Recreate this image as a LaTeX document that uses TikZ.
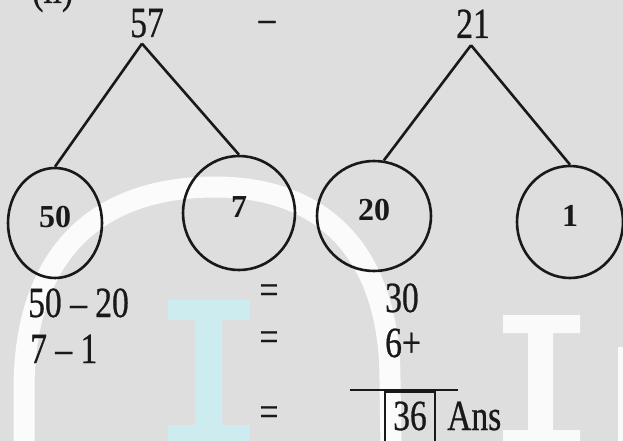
\documentclass[tikz,border=0pt]{standalone}
\usepackage{fontspec}
\setmainfont{Liberation Serif}
\newfontfamily\sn[FakeStretch=0.78,FakeBold=0.6]{Liberation Serif}
\usetikzlibrary{shapes.geometric}
\definecolor{bg}{RGB}{222,222,223}
\definecolor{wmcyan}{RGB}{204,236,240}
\definecolor{ink}{RGB}{25,25,25}
\begin{document}
\begin{tikzpicture}[x=1pt,y=-1pt,
  txt/.style={inner sep=0pt, anchor=base, text=ink, font=\sn\fontsize{43}{43}\selectfont},
  txtl/.style={txt, anchor=base west},
  circ/.style={ellipse, draw=ink, line width=2.6pt, inner sep=0pt, text=ink,
    font=\bfseries\fontsize{32}{32}\selectfont, text depth=12pt},
  edge/.style={draw=ink, line width=2.6pt},
  wmwhite/.style={fill=white, opacity=0.88},
  wmc/.style={fill=wmcyan}]
\useasboundingbox (0,0) rectangle (623,441);
\fill[bg] (0,0) rectangle (623,441);
% watermark
\draw[white, opacity=0.9, line width=21pt]
  (24,450) -- (24,390) .. controls (24,250) and (100,187) .. (215,187)
  .. controls (330,187) and (390,260) .. (390,380) -- (391,450);
\path[wmc] (168,300) rectangle (250,320) (195,320) rectangle (222,425) (168,425) rectangle (250,445);
\path[wmwhite] (503,315) rectangle (580,333) (528,333) rectangle (553,430) (503,430) rectangle (580,445) (618,347) rectangle (626,445);
% label
\node[txtl] (lab) at (32,3) {(ii)};
% top
\node[txt] (n57) at (147,37) {57};
\node[txt] (mn) at (267,32) {–};
\node[txt] (n21) at (473,38) {21};
% circles
\node[circ, minimum width=94pt, minimum height=110pt] (c50) at (55,223) {50};
\node[circ, minimum width=112pt, minimum height=114pt] (c7) at (239,213) {7};
\node[circ, minimum width=114pt, minimum height=110pt] (c20) at (374,216) {20};
\node[circ, minimum width=106pt, minimum height=112pt] (c1) at (570,222) {1};
% tree edges
\draw[edge] ([xshift=-5pt,yshift=-6pt]n57.south) -- (c50.north);
\draw[edge] ([xshift=-5pt,yshift=-6pt]n57.south) -- (c7.north);
\draw[edge] ([xshift=-2pt,yshift=-7pt]n21.south) -- (c20.80);
\draw[edge] ([xshift=-2pt,yshift=-7pt]n21.south) -- (c1.north);
% working
\node[txtl] (l1) at (28,317) {50 – 20};
\node[txtl] (l2) at (30,363) {7 – 1};
\node[txt] (e1) at (269,304) {=};
\node[txt] (e2) at (269,351) {=};
\node[txt] (e3) at (269,426) {=};
\node[txtl] (r1) at (385,312) {30};
\node[txtl] (r2) at (385,357) {6+};
\draw[edge] (350,390) -- (458,390);
\node[txt, draw=ink, line width=1.6pt, minimum width=50pt, text height=38pt, text depth=15pt] (n36) at (410,430) {36};
\node[txtl] (ans) at (447,430) {Ans};
\end{tikzpicture}
\end{document}
